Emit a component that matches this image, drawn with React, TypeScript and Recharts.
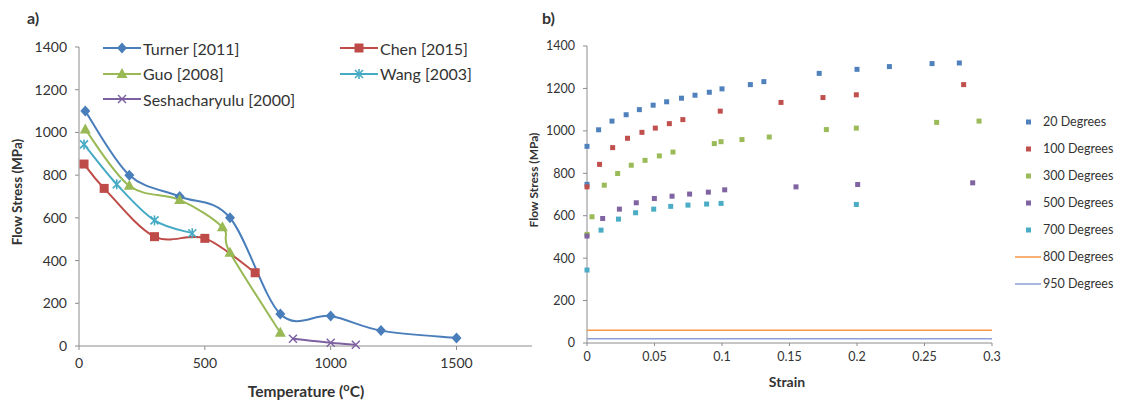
import React from 'react';
import {
  LineChart,
  Line,
  XAxis,
  YAxis,
  Label,
  ScatterChart,
  Scatter,
} from 'recharts';

// ---- panel a: flow stress vs temperature ----
const turner = [
  { t: 25, s: 1100 }, { t: 200, s: 800 }, { t: 400, s: 700 }, { t: 600, s: 600 },
  { t: 800, s: 150 }, { t: 1000, s: 140 }, { t: 1200, s: 72 }, { t: 1500, s: 37 },
];
const chen = [
  { t: 20, s: 852 }, { t: 100, s: 738 }, { t: 300, s: 512 }, { t: 500, s: 504 }, { t: 700, s: 343 },
];
const guo = [
  { t: 25, s: 1014 }, { t: 200, s: 750 }, { t: 400, s: 684 }, { t: 570, s: 556 },
  { t: 600, s: 437 }, { t: 800, s: 62 },
];
const wang = [
  { t: 20, s: 944 }, { t: 150, s: 757 }, { t: 300, s: 588 }, { t: 450, s: 528 },
];
const sesha = [
  { t: 850, s: 34 }, { t: 1000, s: 15 }, { t: 1100, s: 6 },
];
const tempTicks = [0, 500, 1000, 1500];
const stressTicks = [0, 200, 400, 600, 800, 1000, 1200, 1400];

// ---- panel b: flow stress vs strain ----
const deg20 = [
  { x: 0, y: 927 }, { x: 0, y: 748 }, { x: 0.0086, y: 1005 }, { x: 0.0185, y: 1046 },
  { x: 0.029, y: 1076 }, { x: 0.0388, y: 1100 }, { x: 0.049, y: 1121 }, { x: 0.059, y: 1137 },
  { x: 0.07, y: 1154 }, { x: 0.08, y: 1168 }, { x: 0.0906, y: 1182 }, { x: 0.1, y: 1198 },
  { x: 0.121, y: 1218 }, { x: 0.131, y: 1232 }, { x: 0.172, y: 1271 }, { x: 0.2, y: 1290 },
  { x: 0.224, y: 1303 }, { x: 0.2556, y: 1317 }, { x: 0.2758, y: 1320 },
];
const deg100 = [
  { x: 0, y: 736 }, { x: 0.0093, y: 842 }, { x: 0.019, y: 921 }, { x: 0.03, y: 965 },
  { x: 0.0407, y: 993 }, { x: 0.0506, y: 1013 }, { x: 0.061, y: 1034 }, { x: 0.071, y: 1053 },
  { x: 0.0987, y: 1093 }, { x: 0.1437, y: 1134 }, { x: 0.1748, y: 1157 }, { x: 0.1995, y: 1170 },
  { x: 0.279, y: 1218 },
];
const deg300 = [
  { x: 0, y: 512 }, { x: 0.0037, y: 595 }, { x: 0.0128, y: 744 }, { x: 0.0227, y: 799 },
  { x: 0.0328, y: 838 }, { x: 0.043, y: 861 }, { x: 0.0536, y: 882 }, { x: 0.0637, y: 900 },
  { x: 0.0943, y: 940 }, { x: 0.0993, y: 949 }, { x: 0.1148, y: 959 }, { x: 0.135, y: 971 },
  { x: 0.1773, y: 1006 }, { x: 0.1995, y: 1013 }, { x: 0.259, y: 1040 }, { x: 0.2904, y: 1046 },
];
const deg500 = [
  { x: 0, y: 504 }, { x: 0.0116, y: 587 }, { x: 0.024, y: 631 }, { x: 0.0365, y: 661 },
  { x: 0.0499, y: 681 }, { x: 0.063, y: 692 }, { x: 0.076, y: 702 }, { x: 0.0899, y: 711 },
  { x: 0.102, y: 722 }, { x: 0.1548, y: 736 }, { x: 0.2005, y: 747 }, { x: 0.2857, y: 755 },
];
const deg700 = [
  { x: 0, y: 344 }, { x: 0.0104, y: 532 }, { x: 0.0233, y: 584 }, { x: 0.036, y: 614 },
  { x: 0.0494, y: 631 }, { x: 0.062, y: 644 }, { x: 0.0748, y: 650 }, { x: 0.0886, y: 655 },
  { x: 0.0993, y: 658 }, { x: 0.1995, y: 653 },
];
const deg800 = [{ x: 0, y: 60 }, { x: 0.3, y: 60 }];
const deg950 = [{ x: 0, y: 20 }, { x: 0.3, y: 20 }];
const strainTicks = [0, 0.05, 0.1, 0.15, 0.2, 0.25, 0.3];

const FONT = 'Lato, "Open Sans", sans-serif';
const AXIS = '#8c8c8c';
const TXT = '#333';

// Excel-like smoothed line (catmull-rom through the points)
const smooth: any = (ctx: any) => {
  let pts: number[][] = [];
  return {
    areaStart() {},
    areaEnd() {},
    lineStart() {
      pts = [];
    },
    point(x: number, y: number) {
      pts.push([+x, +y]);
    },
    lineEnd() {
      const n = pts.length;
      if (!n) return;
      ctx.moveTo(pts[0][0], pts[0][1]);
      for (let i = 0; i < n - 1; i++) {
        const p0 = pts[Math.max(i - 1, 0)];
        const p1 = pts[i];
        const p2 = pts[i + 1];
        const p3 = pts[Math.min(i + 2, n - 1)];
        ctx.bezierCurveTo(
          p1[0] + (p2[0] - p0[0]) / 6, p1[1] + (p2[1] - p0[1]) / 6,
          p2[0] - (p3[0] - p1[0]) / 6, p2[1] - (p3[1] - p1[1]) / 6,
          p2[0], p2[1]
        );
      }
    },
  };
};

type Mk = 'diamond' | 'square' | 'triangle' | 'star' | 'cross';

function marker(kind: Mk, cx: number, cy: number, color: string, key?: any) {
  switch (kind) {
    case 'diamond':
      return <path key={key} d={`M${cx},${cy - 5.5}L${cx + 5},${cy}L${cx},${cy + 5.5}L${cx - 5},${cy}Z`} fill={color} />;
    case 'square':
      return <rect key={key} x={cx - 4.5} y={cy - 4.5} width={9} height={9} fill={color} />;
    case 'triangle':
      return <path key={key} d={`M${cx},${cy - 6}L${cx + 5.5},${cy + 4}L${cx - 5.5},${cy + 4}Z`} fill={color} />;
    case 'star':
      return (
        <g key={key} stroke={color} strokeWidth={1.6}>
          <line x1={cx - 4} y1={cy - 4} x2={cx + 4} y2={cy + 4} />
          <line x1={cx - 4} y1={cy + 4} x2={cx + 4} y2={cy - 4} />
          <line x1={cx} y1={cy - 5} x2={cx} y2={cy + 5} />
        </g>
      );
    default:
      return (
        <g key={key} stroke={color} strokeWidth={1.4}>
          <line x1={cx - 4} y1={cy - 4} x2={cx + 4} y2={cy + 4} />
          <line x1={cx - 4} y1={cy + 4} x2={cx + 4} y2={cy - 4} />
        </g>
      );
  }
}

const seriesA: { name: string; data: any[]; color: string; mk: Mk }[] = [
  { name: 'Turner [2011]', data: turner, color: '#4A7EBB', mk: 'diamond' },
  { name: 'Chen [2015]', data: chen, color: '#BE4B48', mk: 'square' },
  { name: 'Guo [2008]', data: guo, color: '#98B954', mk: 'triangle' },
  { name: 'Wang [2003]', data: wang, color: '#46AAC5', mk: 'star' },
  { name: 'Seshacharyulu [2000]', data: sesha, color: '#7D60A0', mk: 'cross' },
];

const seriesB = [
  { name: '20 Degrees', data: deg20, color: '#4F81BD' },
  { name: '100 Degrees', data: deg100, color: '#C0504D' },
  { name: '300 Degrees', data: deg300, color: '#9BBB59' },
  { name: '500 Degrees', data: deg500, color: '#8064A2' },
  { name: '700 Degrees', data: deg700, color: '#4BACC6' },
];
const linesB = [
  { name: '800 Degrees', data: deg800, color: '#F79646' },
  { name: '950 Degrees', data: deg950, color: '#8EA0D6' },
];

const LegendA = () => (
  <div style={{ position: 'absolute', left: 103, top: 38, width: 420, height: 80, fontFamily: FONT, fontSize: 16, color: TXT }}>
    {seriesA.map((s, i) => {
      const col = i % 2 === 1 && i < 4 ? 1 : 0;
      const row = Math.floor(i / 2);
      return (
        <div
          key={s.name}
          style={{ position: 'absolute', left: col * 237, top: row * 25.5, display: 'flex', alignItems: 'center', height: 20 }}
        >
          <svg width={40} height={14}>
            <line x1={0} y1={7} x2={38} y2={7} stroke={s.color} strokeWidth={2} />
            {marker(s.mk, 19, 7, s.color)}
          </svg>
          <span style={{ whiteSpace: 'nowrap' }}>{s.name}</span>
        </div>
      );
    })}
  </div>
);

const LegendB = () => (
  <div style={{ position: 'absolute', left: 1015, top: 108, fontFamily: FONT, fontSize: 12.5, color: TXT }}>
    {seriesB.map((s) => (
      <div key={s.name} style={{ display: 'flex', alignItems: 'center', height: 27 }}>
        <svg width={28} height={10}>
          <rect x={11} y={2.5} width={5} height={5} fill={s.color} />
        </svg>
        <span style={{ whiteSpace: 'nowrap' }}>{s.name}</span>
      </div>
    ))}
    {linesB.map((s) => (
      <div key={s.name} style={{ display: 'flex', alignItems: 'center', height: 27 }}>
        <svg width={28} height={10}>
          <line x1={0} y1={5} x2={26} y2={5} stroke={s.color} strokeWidth={1.5} />
        </svg>
        <span style={{ whiteSpace: 'nowrap' }}>{s.name}</span>
      </div>
    ))}
  </div>
);

const vTitle = (x: number, y: number, text: string, size: number) => () => (
  <text
    transform={`translate(${x},${y}) rotate(-90)`}
    textAnchor="middle"
    dominantBaseline="central"
    fontFamily={FONT}
    fontWeight="bold"
    fontSize={size}
    fill={TXT}
  >
    {text}
  </text>
);

const tempTitle = () => (
  <text x={306} y={397} textAnchor="middle" fontFamily={FONT} fontWeight="bold" fontSize={15.5} fill={TXT}>
    Temperature (<tspan fontSize={11} dy={-6}>o</tspan>
    <tspan dy={6}>C)</tspan>
  </text>
);

const strainTitle = () => (
  <text x={282} y={387} textAnchor="middle" fontFamily={FONT} fontWeight="bold" fontSize={14} fill={TXT}>
    Strain
  </text>
);

export default function App() {
  const tickA = { fontFamily: FONT, fontSize: 14, fill: TXT };
  const tickB = { fontFamily: FONT, fontSize: 12.5, fill: TXT };
  return (
    <div style={{ position: 'absolute', left: 0, top: 0, width: 1121, height: 401, background: '#fff' }}>
      <div style={{ position: 'absolute', left: 27, top: 8, fontFamily: FONT, fontWeight: 'bold', fontSize: 16, color: TXT }}>a)</div>
      <div style={{ position: 'absolute', left: 542, top: 8, fontFamily: FONT, fontWeight: 'bold', fontSize: 16, color: TXT }}>b)</div>

      <div style={{ position: 'absolute', left: 0, top: 0 }}>
        <LineChart width={545} height={401} margin={{ top: 47, right: 13, bottom: 0, left: 0 }}>
          <XAxis
            type="number"
            dataKey="t"
            domain={[0, 1800]}
            ticks={tempTicks}
            height={55}
            stroke={AXIS}
            tick={tickA}
            tickSize={4}
            tickMargin={8}
            allowDuplicatedCategory={false}
          >
            <Label content={tempTitle} />
          </XAxis>
          <YAxis
            type="number"
            domain={[0, 1400]}
            ticks={stressTicks}
            width={79}
            stroke={AXIS}
            tick={tickA}
            tickSize={4}
            tickMargin={8}
          >
            <Label content={vTitle(17, 192, 'Flow Stress (MPa)', 13.5)} />
          </YAxis>
          {seriesA.map((s) => (
            <Line
              key={s.name}
              name={s.name}
              data={s.data}
              dataKey="s"
              type={smooth}
              stroke={s.color}
              strokeWidth={2}
              dot={(p: any) => marker(s.mk, p.cx, p.cy, s.color, `${s.name}-${p.index}`)}
              activeDot={false}
              isAnimationActive={false}
            />
          ))}
        </LineChart>
      </div>
      <LegendA />

      <div style={{ position: 'absolute', left: 505, top: 0 }}>
        <ScatterChart width={616} height={401} margin={{ top: 46, right: 129, bottom: 0, left: 0 }}>
          <XAxis
            type="number"
            dataKey="x"
            domain={[0, 0.3]}
            ticks={strainTicks}
            height={58}
            stroke={AXIS}
            tick={tickB}
            tickSize={3}
            tickMargin={6}
          >
            <Label content={strainTitle} />
          </XAxis>
          <YAxis
            type="number"
            dataKey="y"
            domain={[0, 1400]}
            ticks={stressTicks}
            width={82}
            stroke={AXIS}
            tick={tickB}
            tickSize={4}
            tickMargin={8}
          >
            <Label content={vTitle(28, 180, 'Flow Stress (MPa)', 12)} />
          </YAxis>
          {seriesB.map((s) => (
            <Scatter
              key={s.name}
              name={s.name}
              data={s.data}
              fill={s.color}
              shape={(p: any) => <rect x={p.cx - 2.5} y={p.cy - 2.5} width={5} height={5} fill={s.color} />}
              isAnimationActive={false}
            />
          ))}
          {linesB.map((s) => (
            <Scatter
              key={s.name}
              name={s.name}
              data={s.data}
              line={{ stroke: s.color, strokeWidth: 1.5 }}
              lineType="joint"
              shape={() => <g />}
              isAnimationActive={false}
            />
          ))}
        </ScatterChart>
      </div>
      <LegendB />
    </div>
  );
}
